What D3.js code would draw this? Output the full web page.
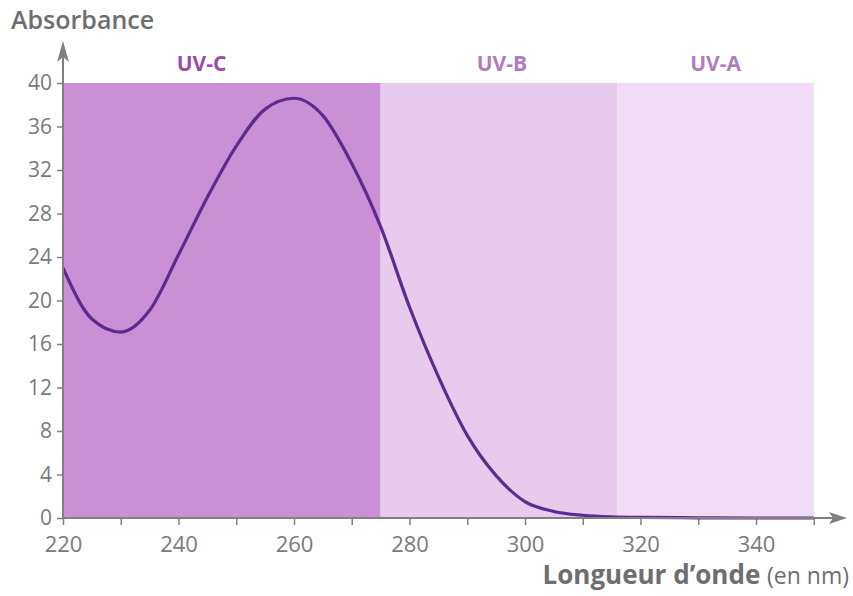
<!DOCTYPE html>
<html>
<head>
<meta charset="utf-8">
<script src="https://d3js.org/d3.v7.min.js"></script>
<style>
  body { margin: 0; background: #fff; font-family: 'Open Sans', 'Noto Sans', sans-serif; }
</style>
</head>
<body>
<div id="chart"></div>
<script>
  // spectrum (nm, absorbance)
  var wavelengths = [220, 225, 230, 235, 240, 245, 250, 255, 260, 265, 270, 275, 280, 285, 290, 295, 300, 305, 310, 315, 320, 330, 340, 350];
  var absorbance  = [23, 18.3, 17.1, 19.1, 24.2, 29.5, 34.2, 37.6, 38.6, 37.0, 32.6, 26.8, 19.4, 13.0, 7.6, 3.9, 1.5, 0.6, 0.25, 0.1, 0.05, 0.02, 0, 0];

  // UV bands
  var bandNames  = ["UV-C", "UV-B", "UV-A"];
  var bandStarts = [220, 275, 316];
  var bandEnds   = [275, 316, 350];
  var bandLabelAt = [244, 296, 333];
  var bandColors = ["#cb8fd5", "#e6cbed", "#f0dcf4"];

  var yTicks = [0, 4, 8, 12, 16, 20, 24, 28, 32, 36, 40];
  var xTicks = [220, 240, 260, 280, 300, 320, 340];
  var xMinor = [230, 250, 270, 290, 310, 330, 350];

  var W = 853, H = 596;
  var x = d3.scaleLinear().domain([220, 340]).range([63, 756]);
  var y = d3.scaleLinear().domain([0, 40]).range([518, 83]);

  var svg = d3.select("#chart").append("svg")
      .attr("width", W)
      .attr("height", H);

  // bands
  svg.selectAll("rect.band")
      .data(bandNames)
      .enter()
      .append("rect")
      .attr("class", "band")
      .attr("x", function(d, i) { return x(bandStarts[i]); })
      .attr("y", y(40))
      .attr("width", function(d, i) { return x(bandEnds[i]) - x(bandStarts[i]); })
      .attr("height", y(0) - y(40))
      .style("fill", function(d, i) { return bandColors[i]; });

  svg.selectAll("text.band")
      .data(bandNames)
      .enter()
      .append("text")
      .attr("class", "band")
      .attr("x", function(d, i) { return x(bandLabelAt[i]); })
      .attr("y", 71)
      .attr("text-anchor", "middle")
      .style("font-size", "21px")
      .style("font-weight", "bold")
      .style("fill", function(d, i) { return i == 0 ? "#9a4cab" : "#b07cc0"; })
      .text(function(d) { return d; });

  // axes
  var axisColor = "#808080";
  var yAxis = svg.append("g")
      .attr("transform", "translate(" + x(220) + ",0)")
      .call(d3.axisLeft(y).tickValues(yTicks).tickSize(6).tickPadding(5));
  var xAxis = svg.append("g")
      .attr("transform", "translate(0," + y(0) + ")")
      .call(d3.axisBottom(x).tickValues(xTicks).tickSize(7).tickPadding(11));
  var xMinorAxis = svg.append("g")
      .attr("transform", "translate(0," + y(0) + ")")
      .call(d3.axisBottom(x).tickValues(xMinor).tickSize(7).tickFormat(""));

  [yAxis, xAxis, xMinorAxis].forEach(function(g) {
      g.select(".domain").remove();
      g.selectAll(".tick line").attr("stroke", axisColor).attr("stroke-width", 1.5);
      g.selectAll(".tick text")
          .style("font-family", "'Open Sans', sans-serif")
          .style("fill", "#7a7a7a");
  });
  yAxis.selectAll(".tick text").style("font-size", "21px");
  xAxis.selectAll(".tick text").style("font-size", "22px");

  // curve
  var line = d3.line()
      .x(function(d, i) { return x(wavelengths[i]); })
      .y(function(d) { return y(d); })
      .curve(d3.curveMonotoneX);

  svg.append("path")
      .attr("d", line(absorbance))
      .attr("fill", "none")
      .attr("stroke", "#5b2b90")
      .attr("stroke-width", 3.2);

  // axis lines with arrows
  svg.append("line")
      .attr("x1", x(220)).attr("y1", y(0))
      .attr("x2", x(220)).attr("y2", 54)
      .attr("stroke", axisColor).attr("stroke-width", 2);
  svg.append("path")
      .attr("d", "M" + x(220) + ",41 L" + (x(220) - 6) + ",62 L" + x(220) + ",57 L" + (x(220) + 6) + ",62 Z")
      .attr("fill", axisColor);

  svg.append("line")
      .attr("x1", x(220)).attr("y1", y(0))
      .attr("x2", 836).attr("y2", y(0))
      .attr("stroke", axisColor).attr("stroke-width", 2);
  svg.append("path")
      .attr("d", "M847," + y(0) + " L829," + (y(0) - 6) + " L833," + y(0) + " L829," + (y(0) + 6) + " Z")
      .attr("fill", axisColor);

  // titles
  svg.append("text")
      .attr("x", 11)
      .attr("y", 29)
      .style("font-size", "25px")
      .style("font-weight", "600")
      .style("fill", "#6e6e6e")
      .text("Absorbance");

  var xt = svg.append("text")
      .attr("x", 849)
      .attr("y", 584)
      .attr("text-anchor", "end")
      .style("font-size", "26px")
      .style("fill", "#6e6e6e");
  xt.append("tspan").style("font-weight", "bold").text("Longueur d\u2019onde ");
  xt.append("tspan").style("font-size", "23px").text("(en nm)");
</script>
</body>
</html>
